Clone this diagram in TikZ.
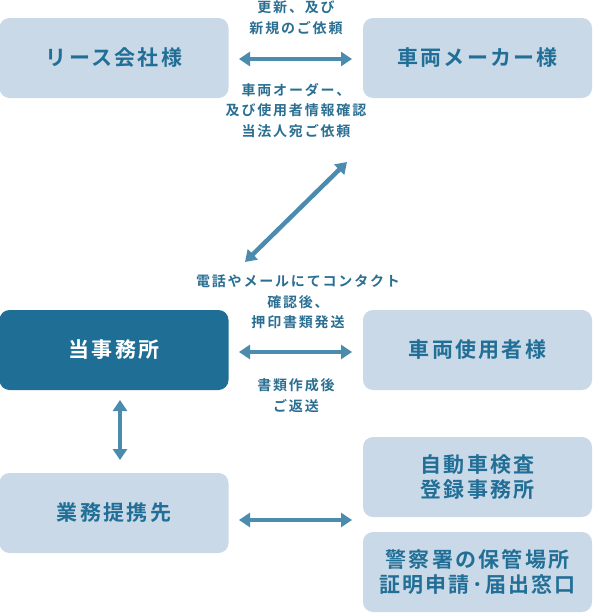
\documentclass[tikz,border=0pt]{standalone}
\usepackage{fontspec}
\usetikzlibrary{arrows.meta}
\newfontfamily\jpmain{Noto Sans CJK JP}[LetterSpace=11,BoldFont={Noto Sans CJK JP Bold}]
\newfontfamily\jplbl{Noto Sans CJK JP}[LetterSpace=13,BoldFont={Noto Sans CJK JP Bold}]
\definecolor{darkbox}{HTML}{1E6E95}
\definecolor{lightbox}{HTML}{CAD9E8}
\definecolor{boxtext}{HTML}{216F96}
\definecolor{arrowc}{HTML}{4A8BAE}
\definecolor{labeltext}{HTML}{2A6F92}
\begin{document}
\begin{tikzpicture}[x=1pt,y=-1pt,
  boxbase/.style={rectangle,rounded corners=10pt,minimum width=229pt,minimum height=80pt,inner sep=0pt,align=center,
    font=\jpmain\bfseries\fontsize{21}{24.5}\selectfont},
  lightbx/.style={boxbase,fill=lightbox,text=boxtext},
  darkbx/.style={boxbase,fill=darkbox,text=white},
  lbl/.style={align=center,text=labeltext,inner sep=0pt,font=\jplbl\bfseries\fontsize{14}{20.5}\selectfont},
  dblarrow/.style={draw=arrowc,line width=4.5pt,{Triangle[width=14pt,length=11pt]}-{Triangle[width=14pt,length=11pt]}}
]
\useasboundingbox (0,0) rectangle (592,613);
% boxes
\node[lightbx] (lease) at (114,58) {リース会社様};
\node[lightbx] (maker) at (477.5,58) {車両メーカー様};
\node[darkbx] (office) at (114,350) {当事務所};
\node[lightbx] (user) at (477.5,350) {車両使用者様};
\node[lightbx] (partner) at (114,513) {業務提携先};
\node[lightbx] (inspect) at (477.5,477) {自動車検査\\登録事務所};
\node[lightbx] (police) at (477.5,572) {警察署の保管場所\\証明申請･届出窓口};
% arrow end points
\coordinate (t1) at (239,59);
\coordinate (t2) at (352,59);
\coordinate (d1) at (245,262);
\coordinate (d2) at (347,162);
\coordinate (m1) at (239,352);
\coordinate (m2) at (352,352);
\coordinate (v1) at (120,400);
\coordinate (v2) at (120,460);
\coordinate (b1) at (239,520);
\coordinate (b2) at (352,520);
\draw[dblarrow] (t1) -- (t2);
\draw[dblarrow] (d1) -- (d2);
\draw[dblarrow] (m1) -- (m2);
\draw[dblarrow] (v1) -- (v2);
\draw[dblarrow] (b1) -- (b2);
% labels
\node[lbl] (l1) at (296,17.5) {更新、及び\\新規のご依頼};
\node[lbl] (l2) at (296,110.5) {車両オーダー、\\及び使用者情報確認\\当法人宛ご依頼};
\node[lbl] (l3) at (298,302) {電話やメールにてコンタクト\\確認後、\\押印書類発送};
\node[lbl] (l4) at (296,395.5) {書類作成後\\ご返送};
\end{tikzpicture}
\end{document}
